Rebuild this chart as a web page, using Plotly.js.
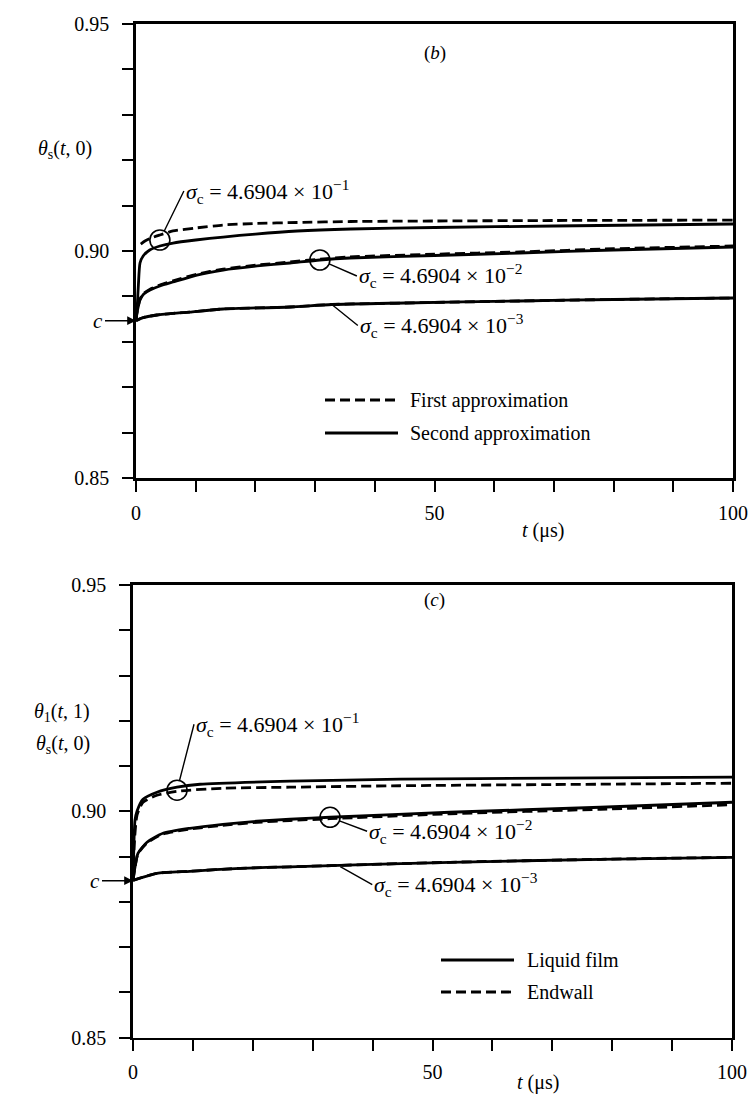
<!DOCTYPE html>
<html>
<head>
<meta charset="utf-8">
<script src="https://cdn.plot.ly/plotly-3.0.1.min.js"></script>
<style>html,body{margin:0;padding:0;background:#fff;}#chart{width:750px;height:1096px;}</style>
</head>
<body>
<div id="chart"></div>
<script>
// ---------- data ----------
const cValue = 0.88465;

// Panel (b): theta_s(t,0)
const bSig1FirstT = [0.8, 1.5, 2.5, 4, 6.2, 10, 14.6, 20, 27, 36, 50, 70, 100];
const bSig1FirstV = [0.90154, 0.90220, 0.90286, 0.90352, 0.90441, 0.90507, 0.90573, 0.90606, 0.90628, 0.90650, 0.90661, 0.90672, 0.90680];
const bSig1SecondT = [0, 0.17, 0.4, 0.67, 1.2, 2.3, 4, 6.2, 10, 14.6, 20, 27, 36, 50, 70, 100];
const bSig1SecondV = [0.88465, 0.88700, 0.89251, 0.89736, 0.89890, 0.90022, 0.90110, 0.90176, 0.90242, 0.90308, 0.90374, 0.90441, 0.90485, 0.90518, 0.90551, 0.90595];
const bSig2T = [0, 0.17, 0.67, 1.3, 2.35, 4, 6.2, 10.2, 14.6, 20.3, 25.8, 30.8, 35.8, 50, 64.3, 80, 100];
const bSig2SecondV = [0.88465, 0.88634, 0.88921, 0.89053, 0.89141, 0.89229, 0.89317, 0.89471, 0.89581, 0.89670, 0.89736, 0.89802, 0.89846, 0.89901, 0.89956, 0.90022, 0.90088];
const bSig2FirstV  = [0.88465, 0.88650, 0.88940, 0.89070, 0.89160, 0.89250, 0.89340, 0.89490, 0.89600, 0.89690, 0.89760, 0.89820, 0.89870, 0.89930, 0.89980, 0.90050, 0.90110];
const bSig3T = [0, 1, 3.5, 9, 14.6, 25.8, 32.8, 45, 64.3, 80, 100];
const bSig3SecondV = [0.88465, 0.88524, 0.88590, 0.88656, 0.88722, 0.88767, 0.88822, 0.88855, 0.88899, 0.88932, 0.88965];
const bSig3FirstV  = [0.88465, 0.88524, 0.88590, 0.88656, 0.88722, 0.88767, 0.88822, 0.88855, 0.88899, 0.88932, 0.88965];

// Panel (c): theta_1(t,1) (liquid film) and theta_s(t,0) (endwall)
const cSig1FilmT = [0, 0.17, 0.33, 0.67, 1.67, 4.0, 7.35, 11.2, 26.2, 44.6, 70, 100];
const cSig1FilmV = [0.88473, 0.89358, 0.89801, 0.90000, 0.90265, 0.90420, 0.90531, 0.90597, 0.90664, 0.90708, 0.90730, 0.90752];
const cSig1WallT = [0, 0.2, 0.67, 1.67, 4.0, 7.35, 15, 26.2, 44.6, 70, 100];
const cSig1WallV = [0.88473, 0.89250, 0.89912, 0.90199, 0.90354, 0.90442, 0.90509, 0.90531, 0.90564, 0.90590, 0.90619];
const cSig2T = [0, 0.33, 0.83, 2.34, 5.0, 9.5, 15.0, 20.7, 26.2, 32.9, 52.9, 78, 100];
const cSig2FilmV = [0.88473, 0.88761, 0.89071, 0.89314, 0.89513, 0.89624, 0.89712, 0.89779, 0.89823, 0.89867, 0.89978, 0.90088, 0.90199];
const cSig2WallV = [0.88473, 0.88755, 0.89062, 0.89300, 0.89497, 0.89605, 0.89690, 0.89755, 0.89795, 0.89835, 0.89945, 0.90044, 0.90144];
const cSig3T = [0, 4.0, 9.5, 17.9, 26.2, 52.9, 78, 100];
const cSig3FilmV = [0.88473, 0.88628, 0.88673, 0.88739, 0.88772, 0.88872, 0.88938, 0.88982];
const cSig3WallV = [0.88473, 0.88628, 0.88673, 0.88739, 0.88772, 0.88872, 0.88938, 0.88982];

// labels
const sigmaExps = ["−1", "−2", "−3"];
const bLegendNames = ["First approximation", "Second approximation"];
const cLegendNames = ["Liquid film", "Endwall"];
const panelLetters = ["b", "c"];
// label anchor points on curves: [t, value]
const bMarks = [[4.0, 0.90242], [30.8, 0.89802], [32.8, 0.88822]];
const cMarks = [[7.35, 0.90465], [32.9, 0.89867], [34.6, 0.88775]];

const xTickVals = [0, 10, 20, 30, 40, 50, 60, 70, 80, 90, 100];
const xTickText = ["0", "", "", "", "", "50", "", "", "", "", "100"];
const yTickVals = [0.85, 0.86, 0.87, 0.88, 0.89, 0.90, 0.91, 0.92, 0.93, 0.94, 0.95];
const yTickText = ["0.85", "", "", "", "", "0.90", "", "", "", "", "0.95"];

// ---------- layout helpers ----------
const W = 750, H = 1096;
const FONT = '"Liberation Serif", "Times New Roman", serif';
const px = x => x / W;
const py = y => 1 - y / H;
const LW = 2.8;
const DASH = "10px,5px";

function line(x, y, dash, xa, ya) {
  return {x: x, y: y, xaxis: xa, yaxis: ya, mode: "lines", showlegend: false, hoverinfo: "skip",
          line: {color: "#000", width: LW, dash: dash, shape: "spline", smoothing: 0.6}};
}

const traces = [
  line(bSig3T, bSig3FirstV, DASH, "x", "y"),
  line(bSig3T, bSig3SecondV, "solid", "x", "y"),
  line(bSig2T, bSig2FirstV, DASH, "x", "y"),
  line(bSig2T, bSig2SecondV, "solid", "x", "y"),
  line(bSig1FirstT, bSig1FirstV, DASH, "x", "y"),
  line(bSig1SecondT, bSig1SecondV, "solid", "x", "y"),
  line(cSig3T, cSig3WallV, DASH, "x2", "y2"),
  line(cSig3T, cSig3FilmV, "solid", "x2", "y2"),
  line(cSig2T, cSig2WallV, DASH, "x2", "y2"),
  line(cSig2T, cSig2FilmV, "solid", "x2", "y2"),
  line(cSig1WallT, cSig1WallV, DASH, "x2", "y2"),
  line(cSig1FilmT, cSig1FilmV, "solid", "x2", "y2")
];

function xAxis(domain, anchor) {
  return {domain: domain, anchor: anchor, range: [0, 100], showline: true, linewidth: LW, linecolor: "#000",
          mirror: true, ticks: "outside", ticklen: 11, tickwidth: 2, tickcolor: "#000",
          tickvals: xTickVals, ticktext: xTickText, showgrid: false, zeroline: false,
          tickfont: {family: FONT, size: 20, color: "#000"}, ticklabelstandoff: 4, fixedrange: true};
}
function yAxis(domain, anchor) {
  return {domain: domain, anchor: anchor, range: [0.85, 0.95], showline: true, linewidth: LW, linecolor: "#000",
          mirror: true, ticks: "outside", ticklen: 11, tickwidth: 2, tickcolor: "#000",
          tickvals: yTickVals, ticktext: yTickText, showgrid: false, zeroline: false,
          tickfont: {family: FONT, size: 20, color: "#000"}, ticklabelstandoff: 9, fixedrange: true};
}

const sigLabel = e => "<i>σ</i><sub>c</sub> = 4.6904 × 10<sup>" + e + "</sup>";

const annotations = [];
const shapes = [];

function addPanel(xr, yr, marks, offsets, circled, letterPx, letter, tLabelPx, yTitles, legendNames, legendDash, legendPx) {
  marks.forEach((m, i) => {
    annotations.push({x: m[0], y: m[1], xref: xr, yref: yr, text: sigLabel(sigmaExps[i]),
      showarrow: true, arrowhead: 0, arrowwidth: 1.4, arrowcolor: "#000",
      ax: offsets[i][0], ay: offsets[i][1], xanchor: "left", yanchor: "middle",
      standoff: circled[i] ? 10 : 0, font: {family: FONT, size: 22, color: "#000"}});
    if (circled[i]) {
      shapes.push({type: "circle", xref: xr, yref: yr, xsizemode: "pixel", ysizemode: "pixel",
        xanchor: m[0], yanchor: m[1], x0: -10, x1: 10, y0: -10, y1: 10,
        line: {color: "#000", width: 1.6}});
    }
  });
  annotations.push({x: 0, y: cValue, xref: xr, yref: yr, text: "<i>c</i>", showarrow: true,
    arrowhead: 2, arrowsize: 1.1, arrowwidth: 1.6, arrowcolor: "#000", ax: -31, ay: 0,
    xanchor: "right", yanchor: "middle", standoff: 0, font: {family: FONT, size: 21, color: "#000"}});
  annotations.push({x: px(letterPx[0]), y: py(letterPx[1]), xref: "paper", yref: "paper", showarrow: false,
    text: "(<i>" + letter + "</i>)", font: {family: FONT, size: 19, color: "#000"}});
  annotations.push({x: px(tLabelPx[0]), y: py(tLabelPx[1]), xref: "paper", yref: "paper", showarrow: false,
    yanchor: "bottom", text: "<i>t</i> (μs)", font: {family: FONT, size: 20, color: "#000"}});
  yTitles.forEach(t => {
    annotations.push({x: px(t[1]), y: py(t[2]), xref: "paper", yref: "paper", showarrow: false,
      xanchor: "right", yanchor: "middle", text: t[0], font: {family: FONT, size: 20, color: "#000"}});
  });
  legendNames.forEach((name, i) => {
    const yy = legendPx[2] + i * legendPx[3];
    shapes.push({type: "line", xref: "paper", yref: "paper", x0: px(legendPx[0]), x1: px(legendPx[0] + 73),
      y0: py(yy), y1: py(yy), line: {color: "#000", width: LW, dash: legendDash[i]}});
    annotations.push({x: px(legendPx[1]), y: py(yy), xref: "paper", yref: "paper", showarrow: false,
      xanchor: "left", yanchor: "middle", text: name, font: {family: FONT, size: 20, color: "#000"}});
  });
}

addPanel("x", "y", bMarks, [[24, -49], [37, 16], [26, 21]], [true, true, false],
  [435, 40], panelLetters[0], [566, 544],
  [["<i>θ</i><sub>s</sub>(<i>t</i>, 0)", 94, 150]],
  bLegendNames, [DASH, "solid"], [325, 408, 400, 33]);

addPanel("x2", "y2", cMarks, [[17, -66], [37, 14], [32, 18]], [true, true, false],
  [435, 600], panelLetters[1], [561, 1096],
  [["<i>θ</i><sub>1</sub>(<i>t</i>, 1)", 92, 712], ["<i>θ</i><sub>s</sub>(<i>t</i>, 0)", 92, 744]],
  cLegendNames, ["solid", DASH], [441, 525, 960, 32]);

const layout = {
  width: W, height: H, margin: {l: 0, r: 0, t: 0, b: 0},
  paper_bgcolor: "#fff", plot_bgcolor: "#fff", showlegend: false,
  font: {family: FONT, color: "#000", size: 20},
  xaxis: xAxis([px(136), px(733)], "y"),
  yaxis: yAxis([py(478), py(24)], "x"),
  xaxis2: xAxis([px(133), px(732)], "y2"),
  yaxis2: yAxis([py(1037.5), py(585)], "x2"),
  annotations: annotations,
  shapes: shapes
};

Plotly.newPlot("chart", traces, layout, {staticPlot: true, displayModeBar: false});
</script>
</body>
</html>
